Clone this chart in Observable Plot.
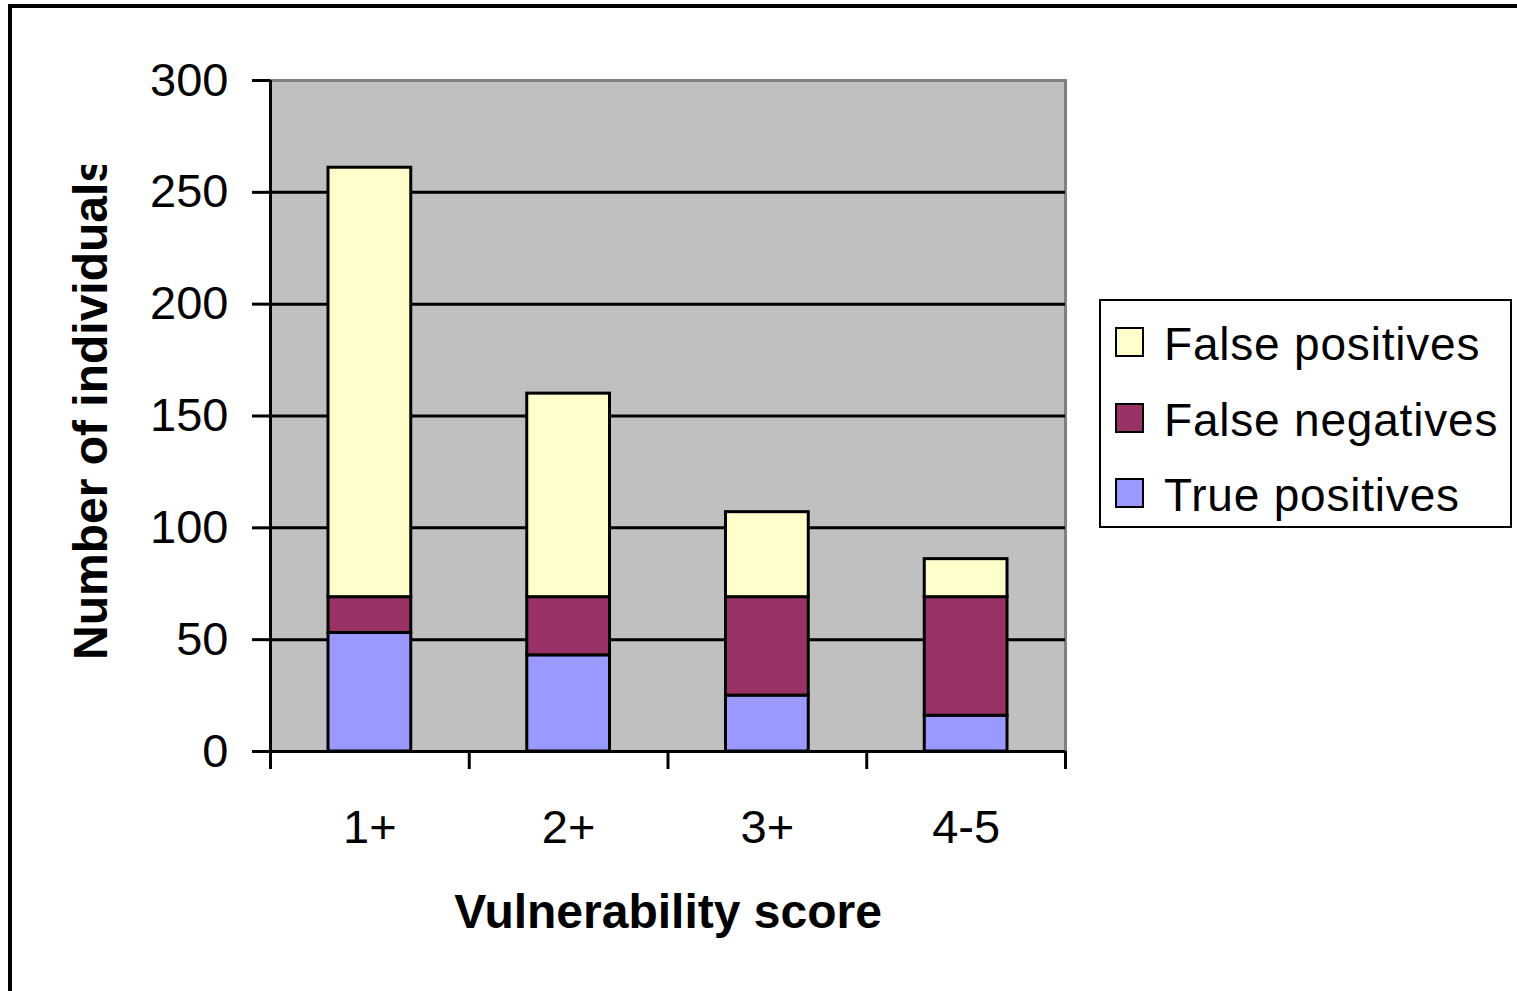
<!DOCTYPE html>
<html>
<head>
<meta charset="utf-8">
<script src="https://cdn.jsdelivr.net/npm/d3@7"></script>
<script src="https://cdn.jsdelivr.net/npm/@observablehq/plot@0.6"></script>
<style>
  html, body { margin: 0; padding: 0; background: #fff; overflow: hidden; width: 1517px; height: 991px; }
  #wrap { position: relative; width: 1517px; height: 991px; font-family: "Liberation Sans", Arial, sans-serif; }
  #frame { position: absolute; left: 8px; top: 4px; width: 1700px; height: 1200px; border: 4px solid #000; box-sizing: border-box; }
  #chart { position: absolute; left: 0; top: 0; }
  #legend { position: absolute; left: 1099px; top: 299px; width: 413px; height: 229px; border: 2px solid #000; box-sizing: border-box; background: #fff; }
  .item { position: absolute; left: 0; height: 40px; }
  .sw { position: absolute; left: 14px; width: 29px; height: 30px; border: 2px solid #000; box-sizing: border-box; }
  .lab { position: absolute; left: 63px; font-size: 46px; letter-spacing: 0.8px; white-space: nowrap; color: #000; line-height: 1; }
  #ytitle { position: absolute; left: 0; top: 0; pointer-events: none; }
</style>
</head>
<body>
<div id="wrap">
  <div id="frame"></div>
  <div id="chart"></div>
  <svg id="ytitle" width="1517" height="991"></svg>
  <div id="legend"></div>
</div>
<script>
const categories = ["1+", "2+", "3+", "4-5"];
const seriesNames = ["True positives", "False negatives", "False positives"];
const seriesColors = ["#9999FF", "#993366", "#FFFFCC"];
const truePositives = [53, 43, 25, 16];
const falseNegatives = [16, 26, 44, 53];
const falsePositives = [192, 91, 38, 17];
const yTicks = [0, 50, 100, 150, 200, 250, 300];
const xTitle = "Vulnerability score";
const yTitle = "Number of individuals";

const seriesValues = [truePositives, falseNegatives, falsePositives];
const data = [];
seriesNames.forEach((s, si) => {
  categories.forEach((c, i) => {
    data.push({series: s, category: c, i0: i, i1: i + 1, value: seriesValues[si][i]});
  });
});

const chart = Plot.plot({
  width: 1517,
  height: 991,
  marginLeft: 270,
  marginRight: 452,
  marginTop: 80,
  marginBottom: 240,
  style: {background: "transparent", fontFamily: "'Liberation Sans', Arial, sans-serif", color: "#000"},
  x: {type: "linear", domain: [0, categories.length]},
  y: {domain: [0, 300]},
  color: {domain: seriesNames, range: seriesColors},
  marks: [
    Plot.frame({fill: "#C0C0C0"}),
    Plot.frame({stroke: "#808080", strokeWidth: 3}),
    Plot.ruleY(yTicks.filter(d => d > 0 && d < 300), {stroke: "#000", strokeWidth: 3}),
    Plot.rectY(data, Plot.stackY({x1: "i0", x2: "i1", y: "value", fill: "series", stroke: "#000", strokeWidth: 3, insetLeft: 58, insetRight: 58})),
    Plot.ruleX([0], {stroke: "#000", strokeWidth: 3}),
    Plot.ruleY([0], {stroke: "#000", strokeWidth: 3}),
    Plot.axisY({ticks: yTicks, tickSize: 18, tickPadding: 24, fontSize: 47, strokeWidth: 3, label: null, tickFormat: d => String(d)}),
    Plot.axisX({ticks: d3.range(categories.length + 1), tickSize: 18, strokeWidth: 3, tickFormat: () => "", label: null}),
    Plot.axisX({ticks: categories.map((c, i) => i + 0.5), tickSize: 0, tickPadding: 58, fontSize: 47, tickFormat: d => categories[Math.floor(d)], label: null}),
    Plot.text([xTitle], {frameAnchor: "bottom", dy: 161, lineAnchor: "middle", fontSize: 48, fontWeight: "bold", fill: "#000", text: d => d})
  ]
});
document.getElementById("chart").appendChild(chart);

// Y axis title (clipped at the top, as in the reference)
const ys = d3.select("#ytitle");
ys.append("defs").append("clipPath").attr("id", "yclip")
  .append("rect").attr("x", 0).attr("y", 165).attr("width", 250).attr("height", 700);
ys.append("g").attr("clip-path", "url(#yclip)")
  .append("text")
  .attr("transform", "translate(107,660) rotate(-90)")
  .attr("font-family", "'Liberation Sans', Arial, sans-serif")
  .attr("font-size", 48)
  .attr("font-weight", "bold")
  .attr("fill", "#000")
  .text(yTitle);

// Legend (top to bottom: reverse stack order)
const legend = d3.select("#legend");
const legendOrder = seriesNames.slice().reverse();
const rowTops = [26, 102, 177];
legendOrder.forEach((s, k) => {
  const item = legend.append("div").attr("class", "item").style("top", rowTops[k] + "px").style("width", "400px");
  item.append("div").attr("class", "sw").style("background", seriesColors[seriesNames.indexOf(s)]);
  item.append("div").attr("class", "lab").style("top", "-6px").text(s);
});
</script>
</body>
</html>
